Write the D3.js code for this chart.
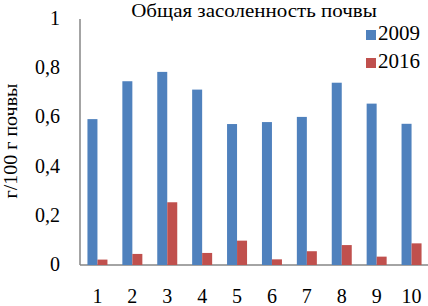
<!DOCTYPE html>
<html>
<head>
<meta charset="utf-8">
<script src="https://cdn.jsdelivr.net/npm/d3@7"></script>
<style>
  body { margin: 0; background: #fff; }
  text { font-family: "Liberation Serif", "Times New Roman", serif; fill: #000; }
</style>
</head>
<body>
<div class="chart"></div>
<script>
const categories = ['1', '2', '3', '4', '5', '6', '7', '8', '9', '10'];
const values2009 = [0.593, 0.747, 0.785, 0.713, 0.573, 0.581, 0.602, 0.741, 0.656, 0.574];
const values2016 = [0.022, 0.045, 0.255, 0.049, 0.099, 0.023, 0.056, 0.081, 0.034, 0.088];
const seriesNames = ['2009', '2016'];
const yTicks = [0, 0.2, 0.4, 0.6, 0.8, 1];

const width = 428;
const height = 306;
const colors = ['#4F81BD', '#C0504D'];

const svg = d3.select('.chart').append('svg').attr('width', width).attr('height', height);

const x = d3.scaleBand().domain(categories).range([80, 429]);
const y = d3.scaleLinear().domain([0, 1]).range([265, 19]);

// axis lines
svg.append('line').attr('x1', 80).attr('x2', 80).attr('y1', y(1)).attr('y2', y(0))
    .attr('stroke', '#868686').attr('stroke-width', 1.5);
svg.append('line').attr('x1', 80).attr('x2', width).attr('y1', y(0)).attr('y2', y(0))
    .attr('stroke', '#868686').attr('stroke-width', 1.5);

const barW = 10;
const rows = categories.map((c, i) => ({ cat: c, v: [values2009[i], values2016[i]] }));

seriesNames.forEach(function (name, s) {
    svg.append('g').selectAll('rect').data(rows).enter().append('rect')
        .attr('x', d => x(d.cat) + x.bandwidth() / 2 - barW + s * barW)
        .attr('y', d => y(d.v[s]))
        .attr('width', barW)
        .attr('height', d => y(0) - y(d.v[s]))
        .attr('fill', colors[s]);
});

// y tick labels
svg.append('g').selectAll('text').data(yTicks).enter().append('text')
    .attr('x', 60).attr('y', d => y(d) + 6)
    .attr('text-anchor', 'end').style('font-size', '20px')
    .text(d => d3.format('.1f')(d).replace('.', ',').replace(/^0,0$/, '0').replace(/^1,0$/, '1'));

// category labels
svg.append('g').selectAll('text').data(categories).enter().append('text')
    .attr('x', d => x(d) + x.bandwidth() / 2).attr('y', 303)
    .attr('text-anchor', 'middle').style('font-size', '20px')
    .text(d => d);

// title (glyphs in the source are a bit squat)
svg.append('text').attr('transform', 'translate(254,17) scale(1,0.9)').attr('text-anchor', 'middle')
    .style('font-size', '21px').text('Общая засоленность почвы');

// y axis title
svg.append('text').attr('transform', 'translate(17,141) rotate(-90) scale(1,0.9)')
    .attr('text-anchor', 'middle').style('font-size', '20px').text('г/100 г почвы');

// legend
const legend = svg.append('g').selectAll('g').data(seriesNames).enter().append('g')
    .attr('transform', (d, i) => `translate(366,${30 + i * 28})`);
legend.append('rect').attr('width', 10).attr('height', 10).attr('fill', (d, i) => colors[i]);
legend.append('text').attr('x', 12).attr('y', 10).style('font-size', '21px').text(d => d);
</script>
</body>
</html>
